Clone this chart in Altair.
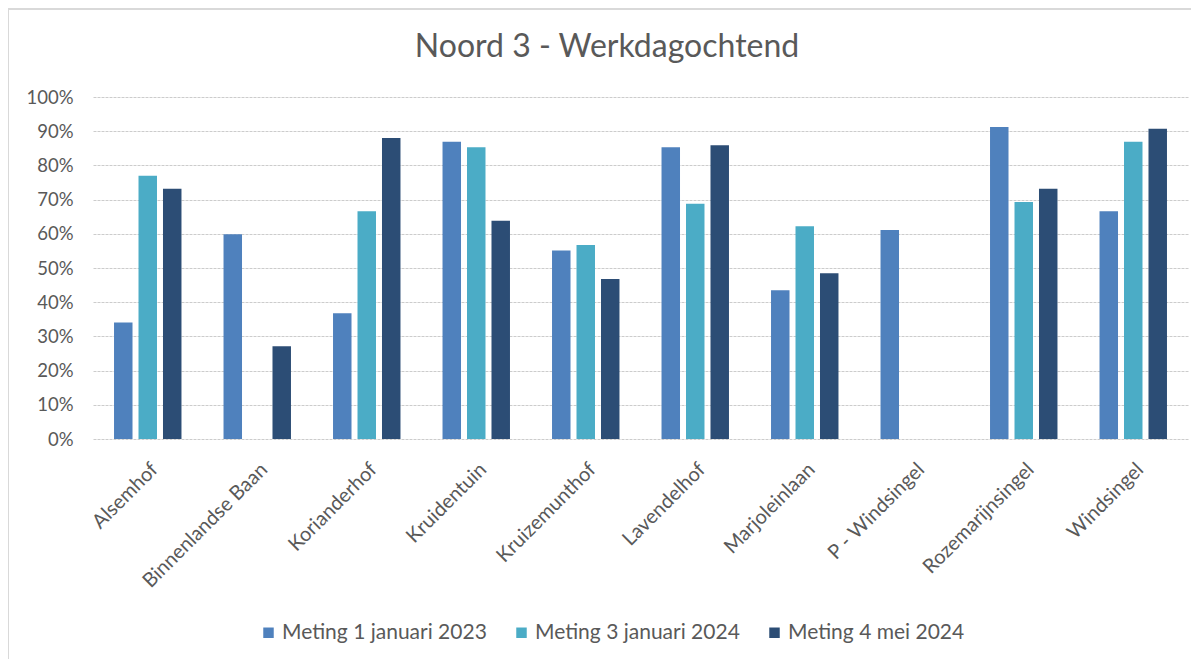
import altair as alt
import pandas as pd

categories = ["Alsemhof", "Binnenlandse Baan", "Korianderhof", "Kruidentuin", "Kruizemunthof",
              "Lavendelhof", "Marjoleinlaan", "P - Windsingel", "Rozemarijnsingel", "Windsingel"]
series = ["Meting 1 januari 2023", "Meting 3 januari 2024", "Meting 4 mei 2024"]
meting_2023_jan = [0.341, 0.599, 0.368, 0.869, 0.551, 0.853, 0.435, 0.611, 0.912, 0.666]
meting_2024_jan = [0.770, None, 0.666, 0.853, 0.567, 0.688, 0.622, None, 0.693, 0.869]
meting_2024_mei = [0.732, 0.271, 0.880, 0.638, 0.468, 0.859, 0.485, None, 0.732, 0.907]
colors = ["#4F81BD", "#4BACC6", "#2C4D75"]
y_ticks = [0, 0.1, 0.2, 0.3, 0.4, 0.5, 0.6, 0.7, 0.8, 0.9, 1.0]
title_text = "Noord 3 - Werkdagochtend"

rows = []
for s, vals in zip(series, [meting_2023_jan, meting_2024_jan, meting_2024_mei]):
    for c, v in zip(categories, vals):
        if v is not None:
            rows.append({"Locatie": c, "Meting": s, "Waarde": v})
df = pd.DataFrame(rows)

FONT = "Lato"
GREY = "#595959"
W, H = 1095, 342

bars = alt.Chart(df).mark_bar().encode(
    x=alt.X("Locatie:N", sort=categories,
            scale=alt.Scale(domain=categories, paddingInner=0.384, paddingOuter=0.192),
            axis=alt.Axis(title=None, labelAngle=-45, labelFontSize=20, labelColor=GREY,
                          labelFont=FONT, domain=False, ticks=False, labelPadding=20,
                          labelLimit=300)),
    xOffset=alt.XOffset("Meting:N", sort=series,
                        scale=alt.Scale(domain=series, paddingInner=0.245, paddingOuter=0)),
    y=alt.Y("Waarde:Q", scale=alt.Scale(domain=[0, 1], nice=False),
            axis=alt.Axis(title=None, format=".0%", values=y_ticks, domain=False, ticks=False,
                          gridColor="#cccccc", gridDash=[3, 1], gridWidth=1,
                          labelFontSize=18.5, labelColor=GREY, labelFont=FONT, labelPadding=20)),
    color=alt.Color("Meting:N", scale=alt.Scale(domain=series, range=colors),
                    legend=alt.Legend(title=None, orient="none", legendX=165, legendY=525,
                                      direction="horizontal", symbolType="square",
                                      symbolSize=110, symbolStrokeWidth=0,
                                      labelFontSize=21, labelColor=GREY, labelFont=FONT,
                                      labelLimit=400, columnPadding=24, labelOffset=3)),
)

border = alt.Chart(pd.DataFrame({"b": [0]})).mark_rect(
    fillOpacity=0, stroke="#d9d9d9", strokeWidth=2
).encode(x=alt.value(-85), x2=alt.value(1300), y=alt.value(-88), y2=alt.value(800))

title = alt.Chart(pd.DataFrame({"t": [title_text]})).mark_text(
    font=FONT, fontSize=32, color=GREY, align="center", baseline="alphabetic"
).encode(text="t:N", x=alt.value(514), y=alt.value(-40))

chart = alt.layer(border, bars, title).properties(
    width=W, height=H,
    autosize=alt.AutoSizeParams(type="none"),
    padding={"left": 85, "top": 89, "right": 3, "bottom": 220},
).configure_view(stroke=None)

chart.save("out.html", embed_options={"renderer": "svg", "actions": False})
